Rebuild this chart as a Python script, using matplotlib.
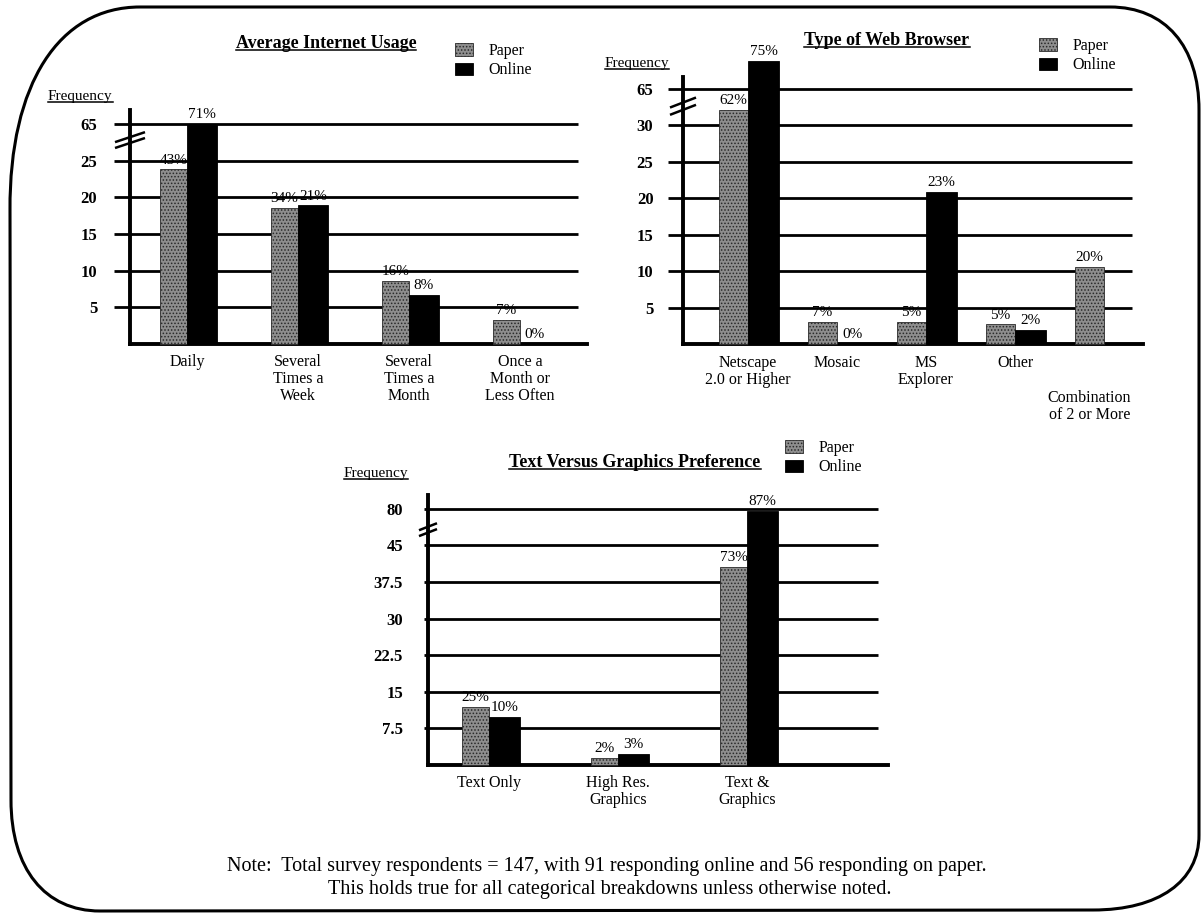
import numpy as np
import matplotlib
matplotlib.use('Agg')
import matplotlib.pyplot as plt
from matplotlib.path import Path
from matplotlib.patches import PathPatch
from matplotlib.lines import Line2D

plt.rcParams['font.family'] = ['Liberation Serif', 'DejaVu Serif']
plt.rcParams['hatch.linewidth'] = 0.7

# ---- data (bar heights are read on each chart's own grid; the top grid line is the broken value) ----
usage_cats = ['Daily', 'Several\nTimes a\nWeek', 'Several\nTimes a\nMonth', 'Once a\nMonth or\nLess Often']
usage_paper = [23.8, 18.6, 8.6, 3.3]
usage_online = [30.0, 18.9, 6.7, 0.0]
usage_paper_pct = ['43%', '34%', '16%', '7%']
usage_online_pct = ['71%', '21%', '8%', '0%']
usage_ticks = [5, 10, 15, 20, 25, 30]
usage_ticklabels = ['5', '10', '15', '20', '25', '65']

browser_cats = ['Netscape\n2.0 or Higher', 'Mosaic', 'MS\nExplorer', 'Other', '\n\nCombination\nof 2 or More']
browser_paper = [32.1, 3.0, 3.0, 2.7, 10.6]
browser_online = [38.8, 0.0, 20.9, 1.9, np.nan]
browser_paper_pct = ['62%', '7%', '5%', '5%', '20%']
browser_online_pct = ['75%', '0%', '23%', '2%', None]
browser_ticks = [5, 10, 15, 20, 25, 30, 35]
browser_ticklabels = ['5', '10', '15', '20', '25', '30', '65']

pref_cats = ['Text Only', 'High Res.\nGraphics', 'Text &\nGraphics']
pref_paper = [11.9, 1.4, 40.6]
pref_online = [9.8, 2.3, 52.0]
pref_paper_pct = ['25%', '2%', '73%']
pref_online_pct = ['10%', '3%', '87%']
pref_ticks = [7.5, 15, 22.5, 30, 37.5, 45, 52.5]
pref_ticklabels = ['7.5', '15', '22.5', '30', '37.5', '45', '80']

note1 = 'Note:  Total survey respondents = 147, with 91 responding online and 56 responding on paper.'
note2 = 'This holds true for all categorical breakdowns unless otherwise noted.'

W, H = 1201, 915
fig = plt.figure(figsize=(W / 100, H / 100), dpi=100)

PAPER = dict(facecolor='#8e8e8e', edgecolor='#2a2a2a', hatch='.....', linewidth=0.6)
ONLINE = dict(facecolor='black', edgecolor='black', linewidth=0.6)


def px_axes(x0, x1, ytop, ybot):
    return fig.add_axes([x0 / W, 1 - ybot / H, (x1 - x0) / W, (ybot - ytop) / H])


def bar_chart(ax, cats, paper, online, ppct, opct, ticks, ticklabels,
              ytop, xlim, grid_end, wp, wo, ticklen, tickpad, catpad):
    x = np.arange(len(cats))
    bp = ax.bar(x - wp / 2, paper, wp, zorder=3, clip_on=False, **PAPER)
    bo = ax.bar(x + wo / 2, online, wo, zorder=3, clip_on=False, **ONLINE)
    ax.set_xlim(*xlim)
    ax.set_ylim(0, ytop)
    ax.hlines(ticks, xlim[0], grid_end, colors='black', lw=2.0, zorder=1.5)
    for s in ['top', 'right']:
        ax.spines[s].set_visible(False)
    for s in ['left', 'bottom']:
        ax.spines[s].set_linewidth(2.8)
    ax.set_yticks(ticks, ticklabels)
    ax.tick_params(axis='y', length=ticklen, width=2, pad=tickpad, labelsize=12)
    for lb in ax.get_yticklabels():
        lb.set_fontweight('bold')
    # a category with only a paper bar gets its label under that bar
    xt = [xi - wp / 2 if np.isnan(o) else xi for xi, o in zip(x, online)]
    ax.set_xticks(xt, cats)
    ax.tick_params(axis='x', length=0, pad=catpad, labelsize=11.5)
    for lb in ax.get_xticklabels():
        lb.set_linespacing(1.1)
    for xi, h, t in zip(x - wp / 2, paper, ppct):
        if t is not None and not np.isnan(h):
            ax.annotate(t, (xi, h), xytext=(0, 2), textcoords='offset points',
                        ha='center', va='bottom', fontsize=11, annotation_clip=False)
    for xi, h, t in zip(x + wo / 2, online, opct):
        if t is not None and not np.isnan(h):
            ax.annotate(t, (xi, h), xytext=(0, 2), textcoords='offset points',
                        ha='center', va='bottom', fontsize=11, annotation_clip=False)
    return bp, bo


def break_marks(ax, ys, half_w, rise):
    pos = ax.get_position()
    aw, ah = pos.width * W, pos.height * H
    x0, x1 = ax.get_xlim()
    y0, y1 = ax.get_ylim()
    dx = half_w * (x1 - x0) / aw
    dy = rise * (y1 - y0) / ah
    for y in ys:
        ax.plot([x0 - dx, x0 + dx], [y - dy, y + dy], color='black', lw=1.8,
                clip_on=False, solid_capstyle='butt', zorder=5)


def legend(ax, handles, left, top):
    ax.legend(handles, ['Paper', 'Online'], loc='upper left',
              bbox_to_anchor=(left / W, 1 - top / H), bbox_transform=fig.transFigure,
              frameon=False, fontsize=11.5, handlelength=1.15, handleheight=0.8,
              handletextpad=0.95, labelspacing=0.2, borderpad=0, borderaxespad=0)


# chart 1 : Average Internet Usage
ax1 = px_axes(130, 587, 110, 344)
h1 = bar_chart(ax1, usage_cats, usage_paper, usage_online, usage_paper_pct, usage_online_pct,
               usage_ticks, usage_ticklabels, 31.9, (-0.514, 3.604), 3.523,
               0.245, 0.27, 11.5, 12, 7)
break_marks(ax1, [28.2, 27.4], 15, 5)
legend(ax1, h1, 455, 43)

# chart 2 : Type of Web Browser
ax2 = px_axes(683, 1143, 77, 344)
h2 = bar_chart(ax2, browser_cats, browser_paper, browser_online, browser_paper_pct, browser_online_pct,
               browser_ticks, browser_ticklabels, 36.6, (-0.730, 4.438), 4.315,
               0.33, 0.35, 10.8, 10.5, 8)
break_marks(ax2, [33.1, 32.1], 13, 5)
legend(ax2, h2, 1039, 38)

# chart 3 : Text Versus Graphics Preference
ax3 = px_axes(428, 888, 495, 765)
h3 = bar_chart(ax3, pref_cats, pref_paper, pref_online, pref_paper_pct, pref_online_pct,
               pref_ticks, pref_ticklabels, 55.3, (-0.473, 3.093), 3.016,
               0.21, 0.24, 3, 15, 7)
break_marks(ax3, [48.8, 47.6], 9, 3.5)
legend(ax3, h3, 785, 440)

# titles and "Frequency" labels (underlined)
under = []
for txt, xc, yb in [('Average Internet Usage', 326, 48),
                    ('Type of Web Browser', 887, 45),
                    ('Text Versus Graphics Preference', 635, 467)]:
    t = fig.text(xc / W, 1 - yb / H, txt, ha='center', va='baseline',
                 fontsize=13, fontweight='bold')
    under.append((t, yb))
for xl, yb in [(48, 100), (605, 67), (344, 477)]:
    t = fig.text(xl / W, 1 - yb / H, 'Frequency', ha='left', va='baseline', fontsize=11)
    under.append((t, yb))

fig.text(607 / W, 1 - 866 / H, note1, ha='center', va='center', fontsize=14.5)
fig.text(610 / W, 1 - 889 / H, note2, ha='center', va='center', fontsize=14.5)

fig.canvas.draw()
for t, yb in under:
    bb = t.get_window_extent()
    y = 1 - (yb + 1.5) / H
    fig.add_artist(Line2D([bb.x0 / W, bb.x1 / W], [y, y], transform=fig.transFigure,
                          color='black', lw=1.1))

# rounded frame around the page
k = 0.62


def corner(a, c, b):
    p1 = (a[0] + k * (c[0] - a[0]), a[1] + k * (c[1] - a[1]))
    p2 = (b[0] + k * (c[0] - b[0]), b[1] + k * (c[1] - b[1]))
    return [p1, p2, b]


pts = [(10, 210)]
codes = [Path.MOVETO]
pts += corner((10, 210), (9, 7), (140, 7)); codes += [Path.CURVE4] * 3
pts += [(1110, 7)]; codes += [Path.LINETO]
pts += corner((1110, 7), (1199, 7), (1199, 110)); codes += [Path.CURVE4] * 3
pts += [(1199, 835)]; codes += [Path.LINETO]
pts += corner((1199, 835), (1199, 910), (1093, 910)); codes += [Path.CURVE4] * 3
pts += [(100, 911)]; codes += [Path.LINETO]
pts += corner((100, 911), (11, 911), (11, 800)); codes += [Path.CURVE4] * 3
pts += [(10, 210)]; codes += [Path.LINETO]
pts = [(x / W, 1 - y / H) for x, y in pts]
fig.add_artist(PathPatch(Path(pts, codes), transform=fig.transFigure,
                         fill=False, lw=2.2, edgecolor='black'))

fig.savefig('out.png', dpi=100)
